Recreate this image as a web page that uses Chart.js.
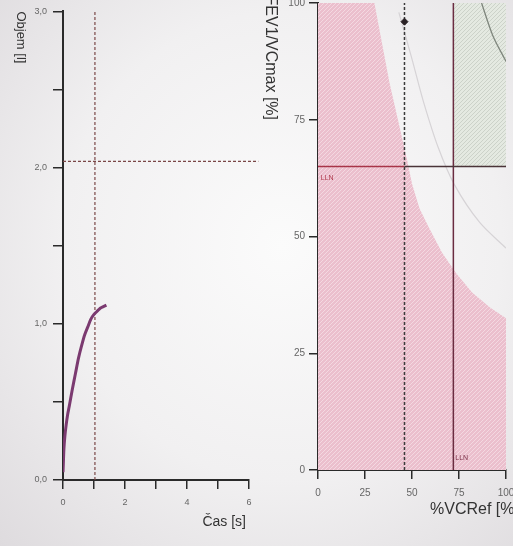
<!DOCTYPE html>
<html lang="cs">
<head>
<meta charset="UTF-8">
<title>Spirometrie</title>
<script src="https://cdn.jsdelivr.net/npm/chart.js"></script>
<style>
    html, body { margin: 0; padding: 0; width: 513px; height: 546px; overflow: hidden; }
    body { background: radial-gradient(ellipse at 55% 45%, #fbfbfb 0%, #f1f0f1 55%, #dedbde 100%); position: relative; }
    canvas { position: absolute; }
    #volChart { left: 0; top: 0; }
    #ratioChart { left: 262px; top: -20px; }
</style>
</head>
<body>
<canvas id="volChart" width="262" height="546"></canvas>
<canvas id="ratioChart" width="300" height="566"></canvas>
<script>
    // --- Objem / čas ---
    const casS = [0, 0.01, 0.03, 0.06, 0.1, 0.15, 0.2, 0.3, 0.4, 0.5, 0.6, 0.7, 0.8, 0.9, 1.0, 1.1, 1.2, 1.3, 1.4];
    const objemL = [0.05, 0.1, 0.2, 0.28, 0.35, 0.42, 0.47, 0.58, 0.68, 0.78, 0.86, 0.93, 0.98, 1.03, 1.06, 1.08, 1.10, 1.11, 1.12];
    const casMarker = 1.03;     // svislá čárkovaná
    const objemMarker = 2.04;   // vodorovná čárkovaná

    // --- FEV1/VCmax vs %VCRef ---
    const pinkX = [0, 30, 38, 47.6, 50, 54, 58.9, 66, 73.7, 82, 91.5, 100];
    const pinkY = [100, 100, 83, 66, 61.3, 56, 52, 46.5, 42, 38, 34.8, 32.5];
    const greyX = [43, 50, 56, 64, 72.7, 86, 100];
    const greyY = [98, 88, 79, 69, 61, 53, 47.5];
    const greenCurveX = [87, 93, 100];
    const greenCurveY = [100, 93, 87.5];
    const llnRatio = 65;
    const llnVC = 72;
    const patientVC = 46;
    const patientRatio = 96;

    const zip = (xs, ys) => xs.map((x, i) => ({ x: x, y: ys[i] }));

    function hatch(base, dot) {
        const c = document.createElement('canvas');
        c.width = 4; c.height = 4;
        const g = c.getContext('2d');
        g.fillStyle = base; g.fillRect(0, 0, 4, 4);
        g.fillStyle = dot;
        g.fillRect(0, 0, 1, 1); g.fillRect(2, 2, 1, 1);
        g.fillRect(1, 3, 1, 1); g.fillRect(3, 1, 1, 1);
        return g.createPattern(c, 'repeat');
    }

    // popisky os a textu LLN
    const textPlugin = {
        id: 'texts',
        afterDraw(chart, args, opts) {
            const ctx = chart.ctx, a = chart.chartArea;
            ctx.save();
            (opts.items || []).forEach(t => {
                ctx.font = t.font;
                ctx.fillStyle = t.color;
                ctx.textBaseline = 'middle';
                let x, y;
                if (t.data) {
                    x = chart.scales.x.getPixelForValue(t.data[0]);
                    y = chart.scales.y.getPixelForValue(t.data[1]);
                } else {
                    x = t.ref[0] === 'r' ? a.right + t.dx : a.left + t.dx;
                    y = t.ref[1] === 'b' ? a.bottom + t.dy : a.top + t.dy;
                }
                ctx.save();
                ctx.translate(x, y);
                if (t.rot) ctx.rotate(Math.PI / 2);
                ctx.textAlign = t.align || 'left';
                ctx.fillText(t.text, 0, 0);
                ctx.restore();
            });
            ctx.restore();
        }
    };

    const tickFont = { family: 'Liberation Sans, Arial, sans-serif', size: 9 };
    const axisDark = '#2a2a2a';

    new Chart(document.getElementById('volChart'), {
        type: 'scatter',
        data: {
            datasets: [
                {
                    data: zip(casS, objemL), showLine: true, borderColor: '#7b3a70',
                    borderWidth: 3, pointRadius: 0, tension: 0.3, order: 1
                },
                {
                    data: [{ x: casMarker, y: 0 }, { x: casMarker, y: 3 }], showLine: true,
                    borderColor: '#7a4646', borderWidth: 1.2, borderDash: [3, 2], pointRadius: 0, order: 2
                },
                {
                    data: [{ x: 0, y: objemMarker }, { x: 6.3, y: objemMarker }], showLine: true,
                    borderColor: '#7a4646', borderWidth: 1.2, borderDash: [3, 2], pointRadius: 0,
                    clip: false, order: 2
                }
            ]
        },
        options: {
            responsive: false, animation: false,
            layout: { padding: { left: 0, right: 13, top: 8, bottom: 0 } },
            plugins: {
                legend: { display: false }, tooltip: { enabled: false },
                texts: {
                    items: [
                        { text: 'Objem [l]', font: '13px Liberation Sans, Arial, sans-serif', color: '#333', ref: 'lt', dx: -42, dy: 0, rot: true },
                        { text: 'Čas [s]', font: '14px Liberation Sans, Arial, sans-serif', color: '#333', ref: 'rb', dx: -3, dy: 42, align: 'right' }
                    ]
                }
            },
            scales: {
                x: {
                    type: 'linear', min: 0, max: 6,
                    afterFit: s => { s.height = 66; },
                    ticks: { stepSize: 1, font: tickFont, color: '#666', padding: 8, maxRotation: 0,
                        callback: v => (v % 2 === 0 ? v : '') },
                    grid: { drawOnChartArea: false, color: axisDark, tickLength: 9, lineWidth: 1.5 },
                    border: { color: axisDark, width: 2 }
                },
                y: {
                    min: 0, max: 3,
                    afterFit: s => { s.width = 63; },
                    ticks: { stepSize: 0.5, font: tickFont, color: '#666', padding: 6,
                        callback: v => (Number.isInteger(v) ? v.toFixed(1).replace('.', ',') : '') },
                    grid: { drawOnChartArea: false, color: axisDark, tickLength: 10, lineWidth: 1.5 },
                    border: { color: axisDark, width: 2 }
                }
            }
        },
        plugins: [textPlugin]
    });

    const pinkFill = hatch('#ebbfcd', '#f4d8e1');
    const greenFill = hatch('#e4e9e1', '#ccd2c9');

    new Chart(document.getElementById('ratioChart'), {
        type: 'scatter',
        data: {
            datasets: [
                {
                    data: zip(pinkX, pinkY), showLine: true, fill: 'origin', backgroundColor: pinkFill,
                    borderWidth: 0, borderColor: 'rgba(0,0,0,0)', pointRadius: 0, order: 20
                },
                {
                    data: [{ x: llnVC, y: 100 }, { x: 100, y: 100 }], showLine: true,
                    fill: { value: llnRatio }, backgroundColor: greenFill,
                    borderWidth: 0, borderColor: 'rgba(0,0,0,0)', pointRadius: 0, order: 19
                },
                {
                    data: zip(greyX, greyY), showLine: true, borderColor: '#d6d3d6', borderWidth: 1.2,
                    pointRadius: 0, tension: 0.3, order: 10
                },
                {
                    data: zip(greenCurveX, greenCurveY), showLine: true, borderColor: '#7f867d', borderWidth: 1.3,
                    pointRadius: 0, tension: 0.3, order: 9
                },
                {
                    data: [{ x: 0, y: llnRatio }, { x: patientVC, y: llnRatio }, { x: 100, y: llnRatio }],
                    showLine: true, borderWidth: 1.6, pointRadius: 0, order: 5,
                    segment: { borderColor: c => (c.p0.parsed.x < patientVC ? '#a83448' : '#4a3438') }
                },
                {
                    data: [{ x: llnVC, y: 0 }, { x: llnVC, y: 100 }], showLine: true,
                    borderColor: '#6a2c40', borderWidth: 1.5, pointRadius: 0, order: 5
                },
                {
                    data: [{ x: patientVC, y: 0 }, { x: patientVC, y: 100 }], showLine: true,
                    borderColor: '#3a3a3a', borderWidth: 1.5, borderDash: [3, 2], pointRadius: 0, order: 4
                },
                {
                    data: [{ x: patientVC, y: patientRatio }], pointStyle: 'rectRot', pointRadius: 3.5,
                    backgroundColor: '#2a2226', borderColor: '#2a2226', order: 1
                }
            ]
        },
        options: {
            responsive: false, animation: false,
            layout: { padding: { left: 0, right: 56, top: 23, bottom: 0 } },
            plugins: {
                legend: { display: false }, tooltip: { enabled: false },
                texts: {
                    items: [
                        { text: 'FEV1/VCmax [%]', font: '16px Liberation Sans, Arial, sans-serif', color: '#333', ref: 'lt', dx: -48, dy: 117, rot: true, align: 'right' },
                        { text: '%VCRef [%]', font: '16px Liberation Sans, Arial, sans-serif', color: '#333', ref: 'rb', dx: -76, dy: 40 },
                        { text: 'LLN', font: '7px Liberation Sans, Arial, sans-serif', color: '#b03a4c', data: [1.5, 62.5] },
                        { text: 'LLN', font: '7px Liberation Sans, Arial, sans-serif', color: '#7a3048', data: [llnVC + 1, 2.5] }
                    ]
                }
            },
            scales: {
                x: {
                    type: 'linear', min: 0, max: 100,
                    afterFit: s => { s.height = 76; },
                    ticks: { stepSize: 25, font: { family: tickFont.family, size: 10 }, color: '#666', padding: 8, maxRotation: 0 },
                    grid: { drawOnChartArea: false, color: axisDark, tickLength: 9, lineWidth: 1.5 },
                    border: { color: axisDark, width: 2 }
                },
                y: {
                    min: 0, max: 100,
                    afterFit: s => { s.width = 56; },
                    ticks: { stepSize: 25, font: { family: tickFont.family, size: 10 }, color: '#666', padding: 4 },
                    grid: { drawOnChartArea: false, color: axisDark, tickLength: 9, lineWidth: 1.5 },
                    border: { color: axisDark, width: 2 }
                }
            }
        },
        plugins: [textPlugin]
    });
</script>
</body>
</html>
